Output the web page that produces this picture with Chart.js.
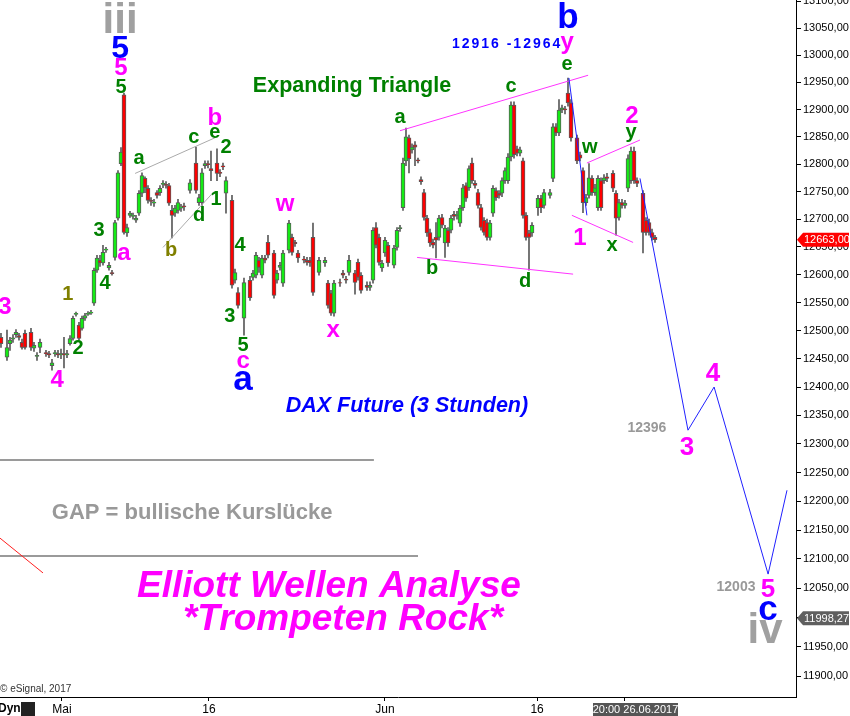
<!DOCTYPE html>
<html><head><meta charset="utf-8">
<script src="https://cdn.jsdelivr.net/npm/chart.js@4.4.1/dist/chart.umd.min.js"></script>
<style>html,body{margin:0;padding:0;background:#fff;}canvas{display:block}</style>
</head><body>
<canvas id="c" width="850" height="716"></canvas>
<script>
// ---- candle data (3-hour bars, bar number from start of view) ----
const barTime=[0,2,3,4,5,6,7,8,10,11,12,13,15,16,17,18,19,20,21,22,23,24,25,26,27,28,29,30,31,32,33,34,35,36,37,38,39,40,41,42,43,44,45,46,47,48,49,50,51,52,53,54,55,56,57,58,59,60,61,63,65,66,67,68,69,70,72,73,74,75,77,78,79,81,83,84,85,86,87,88,89,91,92,93,94,96,97,98,99,101,102,103,104,106,108,109,110,111,113,114,115,116,118,119,120,122,123,124,125,126,127,128,129,131,132,133,134,135,136,137,138,139,140,141,142,143,144,145,146,147,148,149,150,151,152,153,154,155,156,157,158,159,160,161,162,163,164,165,166,167,168,169,170,171,172,173,174,175,176,177,179,180,181,183,184,185,186,187,188,189,190,192,193,194,195,196,197,198,199,200,201,202,204,205,206,207,208,209,210,211,212,214,215,216,217,218];
const openP=[12488,12453,12477,12485,12493,12491,12479,12495,12497,12469,12454,12470,12461,12459,12438,12459,12459,12457,12459,12457,12477,12486,12529,12510,12504,12522,12529,12531,12549,12608,12626,12621,12644,12612,12604,12631,12702,12801,12927,12675,12707,12705,12698,12711,12747,12774,12756,12734,12729,12748,12748,12763,12763,12761,12716,12711,12716,12720,12724,12752,12802,12730,12730,12797,12801,12792,12802,12785,12797,12747,12734,12590,12568,12522,12590,12595,12599,12626,12599,12630,12658,12639,12590,12613,12585,12644,12667,12658,12639,12628,12626,12626,12667,12604,12621,12585,12567,12531,12586,12603,12592,12604,12603,12622,12599,12581,12577,12590,12685,12667,12612,12639,12653,12617,12649,12683,12721,12806,12848,12826,12835,12808,12772,12748,12702,12676,12658,12667,12667,12703,12657,12680,12680,12709,12707,12693,12721,12761,12757,12802,12765,12748,12721,12698,12694,12667,12711,12752,12747,12747,12770,12770,12813,12908,12828,12820,12806,12707,12675,12675,12721,12738,12725,12743,12774,12868,12857,12899,12901,12930,12912,12848,12817,12788,12730,12743,12774,12748,12721,12770,12770,12777,12783,12747,12703,12730,12725,12756,12770,12824,12770,12747,12698,12694,12676,12667];
const highP=[12495,12501,12488,12493,12502,12495,12485,12501,12504,12479,12461,12485,12465,12463,12449,12465,12465,12467,12488,12465,12491,12526,12533,12515,12526,12531,12534,12536,12612,12635,12635,12653,12649,12622,12608,12698,12788,12830,12930,12691,12714,12711,12707,12752,12784,12777,12761,12739,12736,12752,12761,12770,12768,12765,12725,12725,12736,12727,12729,12772,12831,12745,12792,12806,12806,12824,12828,12790,12802,12777,12743,12610,12577,12594,12597,12608,12640,12631,12635,12635,12671,12644,12608,12622,12644,12698,12673,12662,12644,12633,12631,12631,12693,12631,12631,12590,12572,12590,12592,12608,12597,12635,12608,12628,12604,12587,12587,12685,12694,12673,12626,12667,12658,12653,12685,12689,12811,12866,12853,12837,12841,12811,12777,12754,12707,12682,12664,12694,12707,12709,12689,12685,12707,12714,12714,12725,12763,12766,12797,12811,12770,12754,12727,12703,12700,12698,12761,12757,12752,12775,12793,12819,12914,12914,12833,12831,12811,12712,12680,12694,12743,12743,12754,12754,12874,12874,12918,12908,12906,12958,12918,12853,12822,12793,12745,12801,12779,12763,12779,12775,12781,12783,12788,12752,12736,12736,12734,12817,12831,12831,12775,12752,12703,12700,12682,12671];
const lowP=[12470,12447,12465,12479,12488,12483,12467,12467,12465,12463,12447,12461,12454,12452,12430,12454,12452,12450,12434,12452,12474,12483,12526,12483,12501,12518,12527,12529,12545,12604,12615,12617,12640,12608,12599,12626,12698,12797,12673,12669,12703,12700,12694,12707,12741,12748,12729,12725,12723,12738,12743,12757,12756,12725,12666,12705,12711,12714,12716,12747,12747,12725,12725,12792,12793,12770,12770,12777,12790,12711,12576,12585,12540,12492,12554,12590,12594,12604,12594,12621,12630,12558,12585,12608,12579,12639,12635,12651,12622,12621,12617,12615,12563,12599,12615,12540,12527,12526,12579,12594,12585,12599,12565,12590,12567,12572,12572,12585,12648,12617,12606,12633,12615,12612,12644,12678,12716,12797,12784,12820,12797,12802,12763,12698,12669,12651,12648,12630,12662,12684,12631,12651,12675,12698,12700,12687,12716,12732,12752,12765,12756,12720,12680,12671,12662,12662,12705,12734,12738,12741,12765,12765,12806,12811,12815,12815,12702,12662,12608,12669,12707,12712,12720,12738,12768,12852,12852,12894,12892,12906,12842,12801,12806,12712,12725,12738,12743,12743,12716,12716,12765,12768,12750,12671,12698,12720,12720,12750,12765,12765,12759,12639,12671,12671,12662,12658];
const closeP=[12477,12470,12483,12487,12497,12488,12470,12470,12470,12474,12456,12479,12459,12457,12443,12461,12457,12459,12457,12459,12486,12522,12531,12486,12522,12527,12531,12533,12608,12630,12621,12640,12646,12617,12602,12694,12784,12822,12676,12685,12711,12707,12702,12747,12779,12757,12734,12732,12731,12743,12756,12765,12761,12729,12707,12720,12730,12722,12722,12766,12752,12739,12784,12801,12799,12788,12783,12783,12795,12770,12581,12604,12545,12586,12559,12603,12635,12613,12630,12626,12635,12563,12603,12617,12639,12693,12640,12656,12630,12626,12622,12621,12568,12626,12626,12545,12531,12585,12585,12599,12590,12626,12586,12595,12572,12577,12581,12680,12653,12622,12621,12662,12621,12648,12680,12685,12802,12850,12810,12831,12831,12806,12768,12703,12675,12657,12653,12662,12702,12689,12684,12657,12702,12705,12709,12720,12757,12738,12792,12770,12761,12725,12685,12676,12667,12693,12756,12739,12743,12770,12788,12813,12908,12817,12820,12826,12707,12667,12667,12689,12738,12721,12748,12748,12868,12857,12899,12903,12899,12912,12848,12806,12811,12730,12739,12775,12748,12757,12774,12721,12775,12774,12756,12702,12730,12725,12729,12810,12824,12770,12765,12676,12676,12676,12667,12663];

// ---- axes ----
const yTicks=[11900,11950,12000,12050,12100,12150,12200,12250,12300,12350,12400,12450,12500,12550,12600,12650,12700,12750,12800,12850,12900,12950,13000,13050,13100];
const xTickPos=[20.3,69.3,128,178.7,208];
const xTickLabels=['Mai','16','Jun','16',''];

// ---- drawn wave lines (bar number / price) ----
const projT=[213,229,237.7,255.7,262];
const projP=[12774,12324,12400,12074,12219];
const wave1T=[189.3,195.3], wave1P=[12958,12707];
const triUpT=[133,195.7], triUpP=[12861,12963];
const triLoT=[138.7,190.7], triLoP=[12631,12601];
const w2UpT=[195.3,213], w2UpP=[12802,12844];
const w2LoT=[190.3,210.7], w2LoP=[12707,12658];
const bUpT=[44.7,71.3], bUpP=[12783,12848];
const bLoT=[54,71], bLoP=[12649,12750];
const redT=[-0.33,14], redP=[12136,12076];
const gap1T=[-0.33,124.3], gap1P=[12272,12272];
const gap2T=[-0.33,139], gap2P=[12105,12105];

// ---- labels: [bar number, price, text, style] ----
const labels=[
 [39.7,13063,'iii','roman'],[39.7,13012,'5','blue5'],[40,12975,'5','mag'],[40,12941,'5','grn'],
 [46,12811,'a','grn'],[64.3,12848,'c','grn'],[71.3,12857,'e','grn'],[71.3,12884,'b','mag'],
 [75,12831,'2','grn'],[71.7,12735,'1','grn'],[66,12707,'d','grn'],[56.7,12644,'b','olive'],
 [41,12639,'a','mag'],[32.7,12680,'3','grn'],[34.7,12585,'4','grn'],[22.3,12565,'1','olive'],
 [25.7,12469,'2','grn'],[1.3,12542,'3','mag'],[18.7,12411,'4','mag'],[94.7,12727,'w','mag'],
 [79.7,12653,'4','grn'],[76.3,12526,'3','grn'],[80.7,12474,'5','grn'],[80.7,12446,'c','mag'],
 [80.7,12412,'a','blue'],[110.7,12501,'x','mag'],
 [117,12943,'Expanding Triangle','title'],[168.7,13021,'12916 -12964','bluenum'],
 [133,12886,'a','grn'],[143.7,12612,'b','grn'],[170,12943,'c','grn'],[174.7,12588,'d','grn'],
 [188.7,12982,'e','grn'],[188.7,13023,'y','mag'],[189,13069,'b','blue'],
 [196.3,12831,'w','grn'],[193,12666,'1','mag'],[203.7,12653,'x','grn'],[210,12857,'y','grn'],[210.3,12888,'2','mag'],
 [135.3,12367,'DAX Future (3 Stunden)','dax'],
 [215.3,12328,'12396','num'],[228.7,12293,'3','magBig'],[237.3,12423,'4','magBig'],
 [245,12052,'12003','num'],[255.7,12047,'5','magBig'],[255.7,12012,'c','blue'],[254.7,11975,'iv','roman'],
 [63.7,12179,'GAP = bullische Kurslücke','gap'],
 [109.3,12053,'Elliott Wellen Analyse','ell'],[114,11995,'*Trompeten Rock*','ell']
];
const markerPrices=[12663,11998.27];

const FF="'Liberation Sans', Arial, sans-serif";
const styles={
 roman:{f:'bold 42px '+FF,c:'#a0a0a0'},
 blue5:{f:'bold 32px '+FF,c:'#0000ff'},
 blue:{f:'bold 35px '+FF,c:'#0000ff'},
 mag:{f:'bold 24px '+FF,c:'#ff00ff'},
 magBig:{f:'bold 26px '+FF,c:'#ff00ff'},
 grn:{f:'bold 20px '+FF,c:'#008000'},
 olive:{f:'bold 20px '+FF,c:'#808000'},
 title:{f:'bold 21.5px '+FF,c:'#008000'},
 bluenum:{f:'bold 14px '+FF,c:'#0000ff',ls:'2px'},
 dax:{f:'italic bold 21.5px '+FF,c:'#0000ff'},
 num:{f:'bold 14px '+FF,c:'#999999'},
 gap:{f:'bold 22px '+FF,c:'#999999'},
 ell:{f:'italic bold 37px '+FF,c:'#ff00ff'}
};

const pts=(T,P)=>T.map((t,i)=>({x:t,y:P[i]}));
const lineDs=(T,P,color,w)=>({type:'line',data:pts(T,P),borderColor:color,borderWidth:w,pointRadius:0,fill:false,tension:0,order:0});

const bodyColors=openP.map((o,i)=>closeP[i]>=o?'#14ec14':'#ff0000');

const annot={
 id:'annot',
 afterDatasetsDraw(chart){
  const ctx=chart.ctx,xs=chart.scales.x,ys=chart.scales.y;
  ctx.save();
  ctx.textAlign='center';ctx.textBaseline='middle';
  labels.forEach(l=>{
   const s=styles[l[3]];
   ctx.font=s.f;ctx.fillStyle=s.c;
   ctx.letterSpacing=s.ls||'0px';
   ctx.fillText(l[2],xs.getPixelForValue(l[0]),ys.getPixelForValue(l[1]));
  });
  ctx.letterSpacing='0px';
  ctx.textAlign='left';
  ctx.font='10px '+FF;ctx.fillStyle='#333';
  ctx.fillText('\u00a9 eSignal, 2017',0,689);
  ctx.restore();
 },
 afterDraw(chart){
  const ctx=chart.ctx,xs=chart.scales.x,ys=chart.scales.y,ca=chart.chartArea;
  ctx.save();
  const cols=['#ff0000','#5f5f5f'];
  markerPrices.forEach((v,i)=>{
   const y=ys.getPixelForValue(v);
   ctx.fillStyle=cols[i];
   ctx.beginPath();
   ctx.moveTo(ca.right+1,y);ctx.lineTo(ca.right+7,y-7);ctx.lineTo(849,y-7);ctx.lineTo(849,y+7);ctx.lineTo(ca.right+7,y+7);ctx.closePath();ctx.fill();
   ctx.fillStyle='#fff';ctx.font='11px '+FF;ctx.textAlign='left';ctx.textBaseline='middle';
   ctx.fillText(v.toFixed(2).replace('.',','),ca.right+8,y+0.5);
  });
  const tx=xs.getPixelForValue(xTickPos[4]);
  ctx.fillStyle='#555';ctx.fillRect(tx-32,703,85,13);
  ctx.fillStyle='#fff';ctx.font='11px '+FF;ctx.textAlign='center';ctx.textBaseline='middle';
  ctx.fillText('20:00 26.06.2017',tx+10.5,710);
  ctx.fillStyle='#000';ctx.font='bold 12px '+FF;ctx.textAlign='left';
  ctx.fillText('Dyn',-2,709);
  ctx.fillStyle='#222';ctx.fillRect(21,702,14,14);
  ctx.restore();
 }
};

new Chart(document.getElementById('c'),{
 type:'bar',
 data:{datasets:[
  {type:'bar',data:barTime.map((t,i)=>({x:t,y:[openP[i],closeP[i]]})),backgroundColor:bodyColors,borderColor:'#5a5a5a',borderWidth:1,borderSkipped:false,barThickness:4,grouped:false,order:1},
  {type:'bar',data:barTime.map((t,i)=>({x:t,y:[lowP[i],highP[i]]})),backgroundColor:'#5a5a5a',borderWidth:0,barThickness:1,grouped:false,order:2},
  lineDs(projT,projP,'#2020ff',1),
  lineDs(wave1T,wave1P,'#2020ff',1),
  lineDs(triUpT,triUpP,'#ff33ff',1),
  lineDs(triLoT,triLoP,'#ff33ff',1),
  lineDs(w2UpT,w2UpP,'#ff33ff',1),
  lineDs(w2LoT,w2LoP,'#ff33ff',1),
  lineDs(bUpT,bUpP,'#aaaaaa',1),
  lineDs(bLoT,bLoP,'#aaaaaa',1),
  lineDs(redT,redP,'#ff2020',1),
  lineDs(gap1T,gap1P,'#9a9a9a',2),
  lineDs(gap2T,gap2P,'#9a9a9a',2)
 ]},
 options:{
  responsive:false,animation:false,devicePixelRatio:1,
  layout:{padding:0},
  plugins:{legend:{display:false},tooltip:{enabled:false}},
  scales:{
   x:{type:'linear',min:-0.33,max:265,offset:false,
      grid:{drawOnChartArea:false,drawTicks:true,tickLength:4,color:'#000',offset:false},
      border:{display:true,color:'#000',width:1},
      ticks:{autoSkip:false,maxRotation:0,padding:1,color:'#000',font:{family:FF,size:12},
        callback:(v,i)=>xTickLabels[i]},
      afterBuildTicks:s=>{s.ticks=xTickPos.map(v=>({value:v}));},
      afterFit:s=>{s.height=19;s.paddingLeft=0;s.paddingRight=0;}
   },
   y:{type:'logarithmic',position:'right',min:11864.5,max:13102.7,
      grid:{drawOnChartArea:false,drawTicks:true,tickLength:5,color:'#000'},
      border:{display:true,color:'#000',width:1},
      ticks:{padding:2,color:'#000',font:{family:FF,size:11},
        callback:v=>Number(v).toFixed(2).replace('.',',')},
      afterBuildTicks:s=>{s.ticks=yTicks.map(v=>({value:v}));},
      afterFit:s=>{s.width=54;s.paddingTop=0;s.paddingBottom=0;}
   }
  }
 },
 plugins:[annot]
});
</script>
</body></html>
